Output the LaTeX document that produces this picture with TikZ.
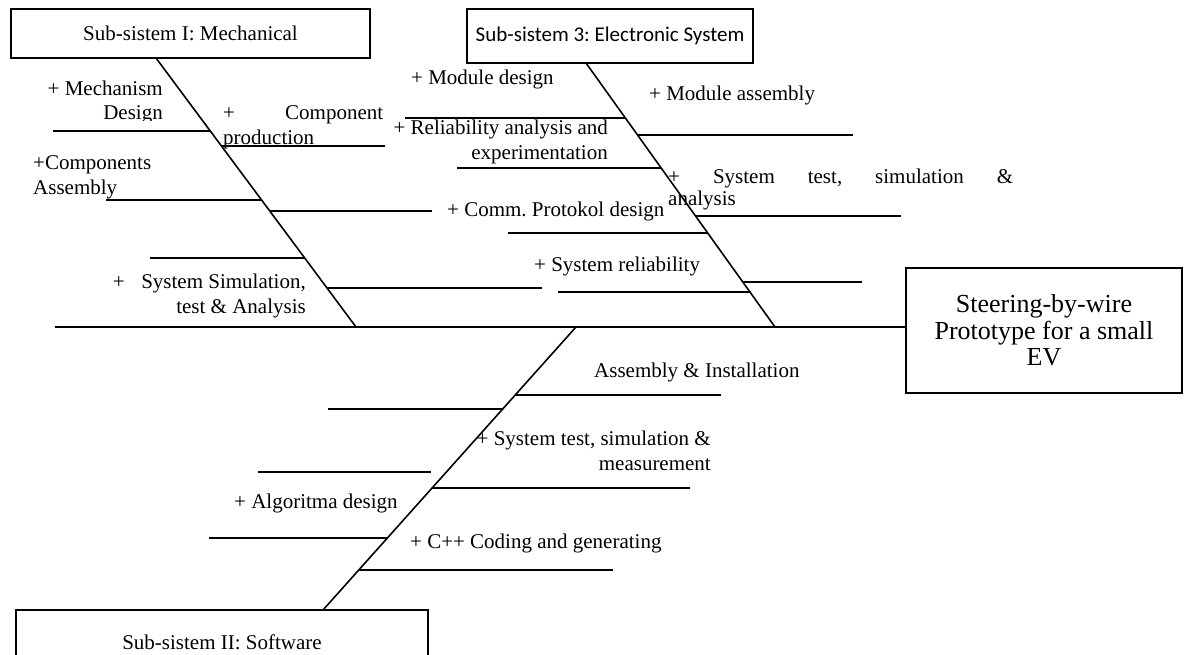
\documentclass[tikz,border=0pt]{standalone}
\usepackage{fontspec}
\setmainfont{Liberation Serif}
\newfontfamily\carlitofont{Carlito}
\newcommand\twol[3]{\begin{tabular}[t]{@{}#1@{}}#2\\#3\end{tabular}}
\begin{document}
\frenchspacing
\begin{tikzpicture}[x=1pt,y=-1pt,
  rib/.style={line width=1.6pt},
  spine/.style={line width=1.6pt},
  box/.style={draw,line width=1.6pt,inner sep=0pt},
  lbl/.style={inner sep=0pt,font=\fontsize{21}{24.5}\selectfont\frenchspacing}]
\clip (0,0) rectangle (1184,654);
\fill[white] (0,0) rectangle (1184,654);

% boxes
\node[box,lbl,minimum width=359pt,minimum height=49pt] (mech) at (190.5,33.5) {Sub-sistem I: Mechanical};
\node[box,lbl,font=\fontsize{21}{24.5}\carlitofont,minimum width=286pt,minimum height=54pt] (elec) at (610,36) {Sub-sistem 3: Electronic System};
\node[box,lbl,minimum width=412pt,minimum height=64pt] (soft) at (222,642) {Sub-sistem II: Software};
\node[box,font=\fontsize{26}{26.5}\selectfont,align=center,minimum width=276pt,minimum height=125pt] (goal) at (1044,330.5) {Steering-by-wire\\Prototype for a small\\EV};

% main line and spines
\coordinate (tail) at (55,327);
\coordinate (s1a) at (156,58);   \coordinate (s1b) at (356,327);
\coordinate (s3a) at (586,63);   \coordinate (s3b) at (775,327);
\coordinate (s2a) at (576,327);  \coordinate (s2b) at (323,610);
\draw[spine] (tail) -- (tail -| goal.west);
\draw[spine] (s1a) -- (s1b);
\draw[spine] (s3a) -- (s3b);
\draw[spine] (s2a) -- (s2b);

% ribs of sub-system I
\draw[rib] (53,131) -- (210.3,131);
\draw[rib] (221.4,146) -- (385,146);
\draw[rib] (106,200) -- (261.6,200);
\draw[rib] (269.8,211) -- (432,211);
\draw[rib] (150,258) -- (304.7,258);
\draw[rib] (327,288) -- (542,288);
% ribs of sub-system 3
\draw[rib] (405,118) -- (625.4,118);
\draw[rib] (637.5,135) -- (853,135);
\draw[rib] (457,168) -- (661.2,168);
\draw[rib] (695.5,216) -- (901,216);
\draw[rib] (508,233) -- (707.7,233);
\draw[rib] (742.8,282) -- (862,282);
\draw[rib] (558,292) -- (749.9,292);
% ribs of sub-system II
\draw[rib] (515.2,395) -- (721,395);
\draw[rib] (328,409) -- (502.7,409);
\draw[rib] (258,472) -- (431,472);
\draw[rib] (432.1,488) -- (690,488);
\draw[rib] (209,538) -- (387.4,538);
\draw[rib] (358.8,570) -- (613,570);

% labels
\begin{scope}
\clip (0,60) rectangle (200,120.5);
\node[lbl,anchor=base east] (t1) at (163,95) {\twol{r}{+ Mechanism}{Design}};
\end{scope}
\node[lbl,anchor=base west] (t2) at (223,119.5) {\twol{l}{\makebox[160pt][s]{+ Component}}{production}};
\node[lbl,anchor=base west] (t3) at (33,169.5) {\twol{l}{+Components}{Assembly}};
\node[lbl,anchor=base east] (t4) at (306,288.5) {\twol{r}{\makebox[28.5pt][l]{+}System Simulation,}{test \& Analysis}};
\node[lbl,anchor=base west] (t5) at (411,84.5) {+ Module design};
\node[lbl,anchor=base west] (t6) at (649,100.5) {+ Module assembly};
\node[lbl,anchor=base east] (t7) at (608,134.5) {\twol{r}{+ Reliability analysis and}{experimentation}};
\node[lbl,anchor=base west] (t8) at (668,183) {\begin{tabular}[t]{@{}l@{}}\makebox[345pt][s]{+ System test, simulation \&}\\[-2.5pt]analysis\end{tabular}};
\node[lbl,anchor=base west] (t9) at (447,216.5) {+ Comm. Protokol design};
\node[lbl,anchor=base west] (t10) at (534,271.5) {+ System reliability};
\node[lbl,anchor=base west] (t11) at (594,377.5) {Assembly \& Installation};
\begin{scope}
\clip (440,420) rectangle (720,470);
\node[lbl,anchor=base east] (t12) at (711,445.5) {\twol{r}{+ System test, simulation \&}{measurement}};
\end{scope}
\node[lbl,anchor=base west] (t13) at (234,508.5) {+ Algoritma design};
\node[lbl,anchor=base west] (t14) at (410,548.5) {+ C++ Coding and generating};
\end{tikzpicture}
\end{document}
